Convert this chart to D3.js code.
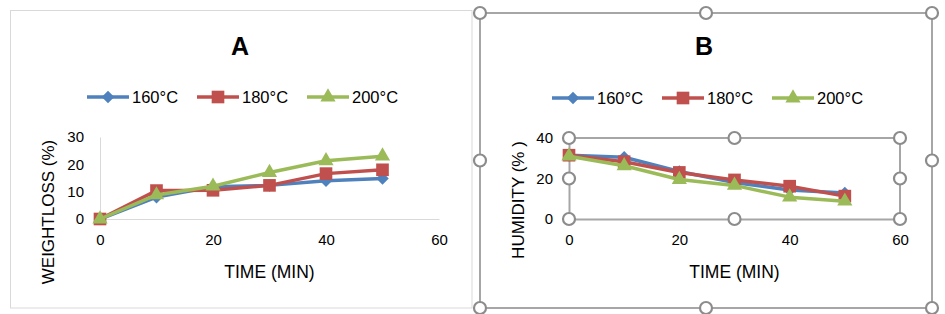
<!DOCTYPE html>
<html>
<head>
<meta charset="utf-8">
<script src="https://cdn.jsdelivr.net/npm/d3@7"></script>
<style>
  body { margin: 0; background: #fff; }
  text { font-family: "Liberation Sans", Arial, sans-serif; }
</style>
</head>
<body>
<div id="my_dataviz"></div>
<script>
// data
const times = [0, 10, 20, 30, 40, 50];
const seriesNames = ["160°C", "180°C", "200°C"];
const xTicks = [0, 20, 40, 60];

// A: weight loss (%)
const weightloss160 = [0, 8, 11.8, 12.3, 14, 14.8];
const weightloss180 = [0, 10.4, 10.5, 12.3, 16.6, 18];
const weightloss200 = [0, 8.8, 12, 17, 21.3, 23];
const yTicksA = [0, 10, 20, 30];

// B: humidity (%)
const humidity160 = [31.5, 30.5, 23.5, 18, 14.3, 12.8];
const humidity180 = [31.5, 28.3, 23, 19.3, 16.2, 11.3];
const humidity200 = [31, 26.3, 19.5, 16.6, 10.8, 8.8];
const yTicksB = [0, 20, 40];

const colors = ["#4F81BD", "#C0504D", "#9BBB59"];
const symbols = [d3.symbolDiamond2, d3.symbolSquare, d3.symbolTriangle];
const symbolSizes = [100, 160, 100];

const W = 945, H = 314;
const svg = d3.select("#my_dataviz")
  .append("svg")
    .attr("width", W)
    .attr("height", H);

function drawChart(cfg) {
  const g = svg.append("g");

  // chart frame
  g.append("rect")
    .attr("x", cfg.frame[0]).attr("y", cfg.frame[1])
    .attr("width", cfg.frame[2] - cfg.frame[0]).attr("height", cfg.frame[3] - cfg.frame[1])
    .attr("fill", "#fff")
    .attr("stroke", cfg.selected ? "#a6a6a6" : "#d9d9d9")
    .attr("stroke-width", cfg.selected ? 2 : 1);

  const x = d3.scaleLinear().domain([0, 60]).range([cfg.plot[0], cfg.plot[2]]);
  const y = d3.scaleLinear().domain([0, cfg.yMax]).range([cfg.plot[3], cfg.plot[1]]);

  // title
  g.append("text")
    .attr("x", cfg.titleX).attr("y", 55)
    .attr("text-anchor", "middle")
    .style("font-size", "25px").style("font-weight", "bold")
    .text(cfg.title);

  // legend
  seriesNames.forEach((name, i) => {
    const lx = cfg.legendX + i * 110, ly = cfg.legendY;
    g.append("line")
      .attr("x1", lx).attr("x2", lx + 42).attr("y1", ly).attr("y2", ly)
      .attr("stroke", colors[i]).attr("stroke-width", 3.5);
    g.append("path")
      .attr("transform", `translate(${lx + 21},${ly})`)
      .attr("d", d3.symbol().type(symbols[i]).size(symbolSizes[i]))
      .attr("fill", colors[i]);
    g.append("text")
      .attr("x", lx + 45).attr("y", ly + 6)
      .style("font-size", "16.5px").style("fill", "#000")
      .text(name);
  });

  // axes
  const xAxis = g.append("g")
    .attr("transform", `translate(0,${cfg.plot[3]})`)
    .call(d3.axisBottom(x).tickValues(xTicks).tickSize(0).tickPadding(15));
  const yAxis = g.append("g")
    .attr("transform", `translate(${cfg.plot[0]},0)`)
    .call(d3.axisLeft(y).tickValues(cfg.yTicks).tickSize(0).tickPadding(16));
  [xAxis, yAxis].forEach(a => {
    a.select(".domain").attr("stroke", cfg.selected ? "#a6a6a6" : "#d9d9d9")
      .attr("stroke-width", cfg.selected ? 2 : 1);
    a.selectAll("text").style("font-size", "15px").style("fill", "#000")
      .style("font-family", "Liberation Sans, Arial, sans-serif");
  });

  if (cfg.selected) {
    // plot area outline (selected)
    g.append("path")
      .attr("d", `M${cfg.plot[0]},${cfg.plot[1]}H${cfg.plot[2]}V${cfg.plot[3]}`)
      .attr("fill", "none").attr("stroke", "#a6a6a6").attr("stroke-width", 2);
  }

  // axis titles
  g.append("text")
    .attr("transform", `translate(${cfg.yTitleX},${cfg.yTitleY}) rotate(-90)`)
    .attr("text-anchor", "middle")
    .style("font-size", "17px")
    .text(cfg.yTitle);
  g.append("text")
    .attr("x", (cfg.plot[0] + cfg.plot[2]) / 2).attr("y", 278)
    .attr("text-anchor", "middle")
    .style("font-size", "17.5px")
    .text("TIME (MIN)");

  // series lines + markers
  const line = d3.line().x(d => x(d.t)).y(d => y(d.v));
  cfg.series.forEach((vals, i) => {
    const pts = times.map((t, k) => ({t: t, v: vals[k]}));
    g.append("path")
      .attr("d", line(pts))
      .attr("fill", "none")
      .attr("stroke", colors[i])
      .attr("stroke-width", 3.5)
      .attr("stroke-linejoin", "round");
    g.selectAll(null)
      .data(pts)
      .join("path")
        .attr("transform", d => `translate(${x(d.t)},${y(d.v)})`)
        .attr("d", d3.symbol().type(symbols[i]).size(symbolSizes[i]))
        .attr("fill", colors[i]);
  });

  if (cfg.selected) {
    // selection handles
    const f = cfg.frame, p = cfg.plot;
    const handles = [
      [f[0], f[1]], [(f[0] + f[2]) / 2, f[1]], [f[2], f[1]], [f[0], (f[1] + f[3]) / 2],
      [f[2], (f[1] + f[3]) / 2], [f[0], f[3]], [(f[0] + f[2]) / 2, f[3]], [f[2], f[3]],
      [p[0], p[1]], [(p[0] + p[2]) / 2, p[1]], [p[2], p[1]], [p[0], (p[1] + p[3]) / 2],
      [p[2], (p[1] + p[3]) / 2], [p[0], p[3]], [(p[0] + p[2]) / 2, p[3]], [p[2], p[3]]];
    g.selectAll(null)
      .data(handles)
      .join("circle")
        .attr("cx", d => d[0]).attr("cy", d => d[1])
        .attr("r", 6)
        .attr("fill", "#fff")
        .attr("stroke", "#8c8c8c")
        .attr("stroke-width", 2.2);
  }
}

drawChart({
  title: "A", titleX: 240,
  frame: [10.5, 10.5, 472, 308],
  plot: [100, 137, 439, 219],
  yMax: 30, yTicks: yTicksA,
  legendX: 87, legendY: 97,
  yTitle: "WEIGHTLOSS (%)", yTitleX: 54, yTitleY: 212,
  series: [weightloss160, weightloss180, weightloss200],
  selected: false
});

drawChart({
  title: "B", titleX: 704,
  frame: [480, 13, 932, 308],
  plot: [569, 138, 900, 219],
  yMax: 40, yTicks: yTicksB,
  legendX: 552, legendY: 98,
  yTitle: "HUMIDITY (% )", yTitleX: 524, yTitleY: 200,
  series: [humidity160, humidity180, humidity200],
  selected: true
});
</script>
</body>
</html>
